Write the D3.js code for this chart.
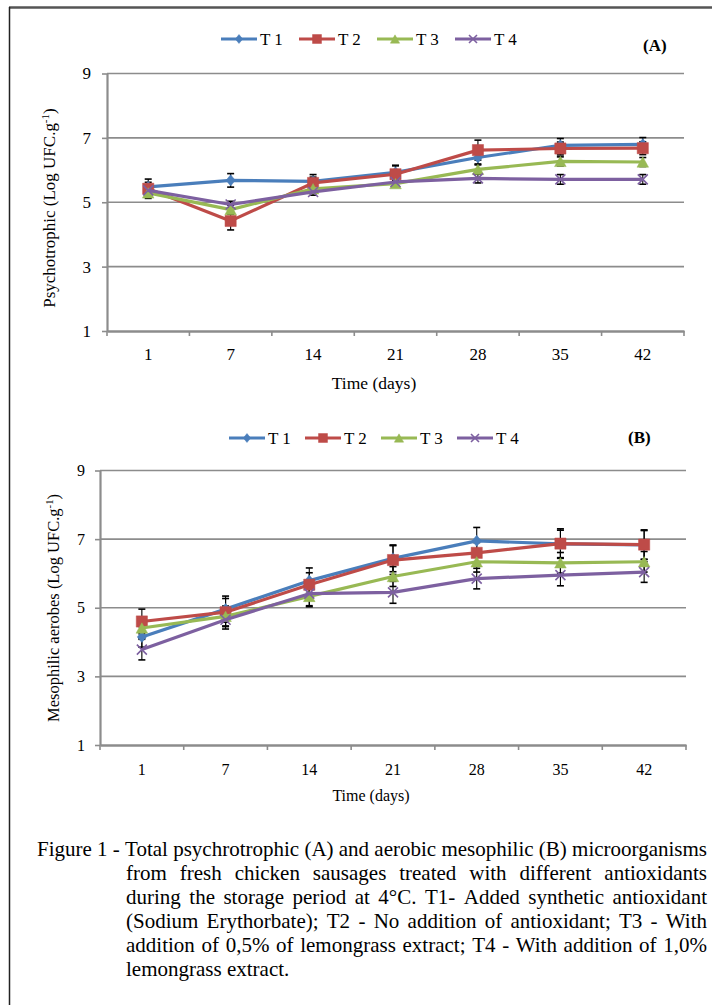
<!DOCTYPE html>
<html><head><meta charset="utf-8">
<script src="https://cdn.jsdelivr.net/npm/d3@7"></script>
<style>html,body{margin:0;padding:0;background:#fff;} svg{display:block}</style>
</head><body>
<svg id="c" width="712" height="1005"></svg>
<script>
// ---------- DATA ----------
const days = ["1","7","14","21","28","35","42"];
const treatments = ["T 1","T 2","T 3","T 4"];
const yTicks = [1,3,5,7,9];

// (A) Psychrotrophic, Log UFC/g
const psyT1 = [5.48,5.68,5.65,5.93,6.39,6.77,6.80];
const psyT2 = [5.42,4.42,5.60,5.87,6.62,6.67,6.68];
const psyT3 = [5.29,4.77,5.42,5.58,6.02,6.27,6.25];
const psyT4 = [5.37,4.93,5.32,5.63,5.74,5.71,5.71];
const psyErrT1 = [0.24,0.21,0.21,0.20,0.20,0.21,0.21];
const psyErrT2 = [0.20,0.28,0.18,0.28,0.31,0.20,0.20];
const psyErrT3 = [0.17,0.14,0.14,0.10,0.14,0.14,0.14];
const psyErrT4 = [0.10,0.10,0.10,0.08,0.14,0.15,0.15];

// (B) Mesophilic aerobes, Log UFC/g
const mesT1 = [4.15,4.96,5.79,6.44,6.95,6.86,6.83];
const mesT2 = [4.60,4.87,5.67,6.39,6.60,6.87,6.84];
const mesT3 = [4.41,4.75,5.33,5.91,6.34,6.31,6.34];
const mesT4 = [3.78,4.65,5.41,5.45,5.85,5.95,6.04];
const mesErrT1 = [0.30,0.38,0.37,0.39,0.39,0.40,0.42];
const mesErrT2 = [0.36,0.40,0.35,0.42,0.30,0.43,0.43];
const mesErrT3 = [0.30,0.30,0.30,0.29,0.30,0.30,0.30];
const mesErrT4 = [0.30,0.27,0.35,0.32,0.30,0.31,0.30];

const captionLines = [
  "Figure 1 - Total psychrotrophic (A) and aerobic mesophilic (B) microorganisms",
  "from fresh chicken sausages treated with different antioxidants",
  "during the storage period at 4°C. T1- Added synthetic antioxidant",
  "(Sodium Erythorbate); T2 - No addition of antioxidant; T3 - With",
  "addition of 0,5% of lemongrass extract; T4 - With addition of 1,0%",
  "lemongrass extract."
];

// ---------- STYLE ----------
const colors = ["#4A7EBB","#BE4B48","#98B954","#7D60A0"];
const serif = "'Liberation Serif','Times New Roman',serif";
const gridColor = "#8c8c8c";

const svg = d3.select("#c");

// frame (top and left edges)
svg.append("line").attr("x1",9).attr("x2",712).attr("y1",7.5).attr("y2",7.5)
  .attr("stroke","#555").attr("stroke-width",2.5);
svg.append("line").attr("x1",9.5).attr("x2",9.5).attr("y1",7).attr("y2",1005)
  .attr("stroke","#222").attr("stroke-width",1.5);

// marker shapes
function markerPath(i, s) {
  const p = d3.path();
  if (i === 0) { const w = 4.6*s, h = 5.6*s; p.moveTo(0,-h); p.lineTo(w,0); p.lineTo(0,h); p.lineTo(-w,0); p.closePath(); }
  else if (i === 1) { const a = 5.6*s; p.rect(-a,-a,2*a,2*a); }
  else if (i === 2) { const w = 5.8*s, h = 5.2*s; p.moveTo(0,-h); p.lineTo(w,h); p.lineTo(-w,h); p.closePath(); }
  else { const a = 5*s; p.moveTo(-a,-a); p.lineTo(a,a); p.moveTo(a,-a); p.lineTo(-a,a); }
  return p.toString();
}
function drawMarker(sel, i, s) {
  sel.append("path").attr("d", markerPath(i, s))
    .attr("fill", i === 3 ? "none" : colors[i])
    .attr("stroke", colors[i]).attr("stroke-width", i === 3 ? 1.6 : 0.5);
}

function drawChart(cfg) {
  const g = svg.append("g");
  const x = d3.scaleBand().domain(days).range([cfg.left, cfg.right]);
  const y = d3.scaleLinear().domain([1,9]).range([cfg.bottom, cfg.top]);
  const cx = d => x(d) + x.bandwidth()/2;

  // gridlines
  g.selectAll("line.grid").data(yTicks.filter(t => t > 1)).join("line")
    .attr("x1", cfg.left).attr("x2", cfg.right)
    .attr("y1", d => y(d)).attr("y2", d => y(d))
    .attr("stroke", gridColor).attr("stroke-width", 1.6);

  // y axis
  const ya = g.append("g").attr("transform", `translate(${cfg.left},0)`)
    .call(d3.axisLeft(y).tickValues(yTicks).tickSize(5).tickSizeOuter(0)
      .tickPadding(cfg.yPad).tickFormat(d3.format("d")));
  ya.select(".domain").attr("stroke", gridColor).attr("stroke-width", 2.2);
  ya.selectAll(".tick line").attr("stroke", gridColor).attr("stroke-width", 1.6);
  ya.selectAll("text").attr("font-family", serif).attr("font-size", cfg.tickFont).attr("fill","#000");

  // x axis
  const xa = g.append("g").attr("transform", `translate(0,${cfg.bottom})`)
    .call(d3.axisBottom(x).tickSize(0).tickSizeOuter(0).tickPadding(cfg.xPad));
  xa.select(".domain").attr("stroke", gridColor).attr("stroke-width", 2.4);
  xa.selectAll("text").attr("font-family", serif).attr("font-size", cfg.tickFont).attr("fill","#000");
  const bounds = days.map(d => x(d)).concat([x.range()[1]]);
  g.selectAll("line.xt").data(bounds).join("line")
    .attr("x1", d => d).attr("x2", d => d)
    .attr("y1", cfg.bottom).attr("y2", cfg.bottom + 5)
    .attr("stroke", gridColor).attr("stroke-width", 1.6);

  // axis titles
  g.append("text").attr("x", cfg.xTitleX).attr("y", cfg.xTitleY)
    .attr("text-anchor","middle").attr("font-family", serif)
    .attr("font-size", cfg.xTitleFont).text("Time (days)");
  const yt = g.append("text")
    .attr("transform", `translate(${cfg.yTitleX},${cfg.yTitleY}) rotate(-90)`)
    .attr("text-anchor","middle").attr("font-family", serif).attr("font-size", cfg.yTitleFont);
  yt.append("tspan").text(cfg.yTitle + " (Log UFC.g");
  yt.append("tspan").attr("dy", -6).attr("font-size", cfg.yTitleFont*0.65).text("-1");
  yt.append("tspan").attr("dy", 6).text(")");

  // panel letter
  g.append("text").attr("x", cfg.letterX).attr("y", cfg.letterY)
    .attr("font-family", serif).attr("font-weight","bold").attr("font-size", 17).text(cfg.letter);

  // error bars
  cfg.series.forEach((vals, i) => {
    const errs = cfg.errs[i];
    const eg = g.append("g").attr("stroke","#000").attr("stroke-width",1.1);
    vals.forEach((v, j) => {
      const px = cx(days[j]);
      eg.append("line").attr("x1",px).attr("x2",px).attr("y1",y(v-errs[j])).attr("y2",y(v+errs[j]));
      [v-errs[j], v+errs[j]].forEach(e => {
        eg.append("line").attr("x1",px-3.5).attr("x2",px+3.5).attr("y1",y(e)).attr("y2",y(e)).attr("stroke-width",1.6);
      });
    });
  });

  // lines + markers
  const line = d3.line().x((d,j) => cx(days[j])).y(d => y(d));
  cfg.series.forEach((vals, i) => {
    g.append("path").datum(vals).attr("d", line)
      .attr("fill","none").attr("stroke", colors[i]).attr("stroke-width", 3.2)
      .attr("stroke-linejoin","round");
    vals.forEach((v, j) => {
      const m = g.append("g").attr("transform", `translate(${cx(days[j])},${y(v)})`);
      drawMarker(m, i, 1);
    });
  });

  // legend
  treatments.forEach((t, i) => {
    const lx = cfg.legendX + i*cfg.legendStep;
    const lg = g.append("g");
    lg.append("line").attr("x1", lx).attr("x2", lx+36).attr("y1", cfg.legendY).attr("y2", cfg.legendY)
      .attr("stroke", colors[i]).attr("stroke-width", 3.2);
    const m = lg.append("g").attr("transform", `translate(${lx+18},${cfg.legendY})`);
    drawMarker(m, i, 0.8);
    lg.append("text").attr("x", lx+39).attr("y", cfg.legendY+6)
      .attr("font-family", serif).attr("font-size", 17).text(t);
  });
}

drawChart({
  left:107, right:684, top:73.5, bottom:331, yPad:11, xPad:17, tickFont:17,
  xTitleX:374, xTitleY:389, xTitleFont:17.5,
  yTitle:"Psychotrophic", yTitleX:55, yTitleY:208, yTitleFont:17,
  letter:"(A)", letterX:643, letterY:51,
  legendX:221, legendStep:78, legendY:39,
  series:[psyT1,psyT2,psyT3,psyT4], errs:[psyErrT1,psyErrT2,psyErrT3,psyErrT4]
});
drawChart({
  left:100, right:686, top:470.5, bottom:745, yPad:10, xPad:19, tickFont:16,
  xTitleX:371, xTitleY:801, xTitleFont:16,
  yTitle:"Mesophilic aerobes", yTitleX:59, yTitleY:608, yTitleFont:16.5,
  letter:"(B)", letterX:628, letterY:443,
  legendX:229, legendStep:76, legendY:438,
  series:[mesT1,mesT2,mesT3,mesT4], errs:[mesErrT1,mesErrT2,mesErrT3,mesErrT4]
});

// caption with hanging indent and justified lines
const capFont = 21;
const cap = svg.append("g").attr("font-family", serif).attr("font-size", capFont);
const capRight = 707;
captionLines.forEach((ln, k) => {
  const x0 = k === 0 ? 37 : 126;
  const yb = 856 + k*24;
  const words = ln.split(" ");
  const last = k === captionLines.length - 1;
  const nodes = words.map(w => cap.append("text").attr("y", yb).text(w));
  const widths = nodes.map(n => n.node().getComputedTextLength());
  const space = capFont*0.25;
  const sum = d3.sum(widths);
  const gap = last ? space : (capRight - x0 - sum) / (words.length - 1);
  let cur = x0;
  nodes.forEach((n, idx) => { n.attr("x", cur); cur += widths[idx] + gap; });
});
</script>
</body></html>
